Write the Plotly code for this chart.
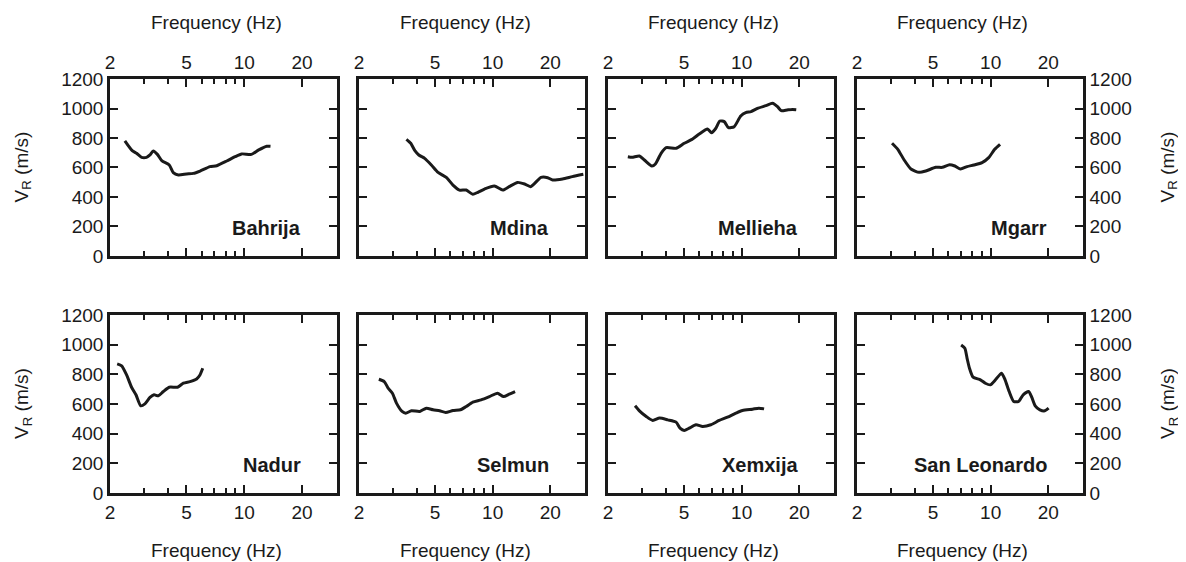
import plotly.graph_objects as go

# station names, grid order
stations = ["Bahrija", "Mdina", "Mellieha", "Mgarr",
            "Nadur", "Selmun", "Xemxija", "San Leonardo"]

# dispersion curves: frequency (Hz) and V_R (m/s)
bahrija_f = [2.39, 2.61, 2.75, 2.92, 3.10, 3.23, 3.36, 3.53, 3.72, 4.07, 4.27, 4.54, 5.01, 5.43,
             5.89, 6.63, 7.19, 8.11, 8.96, 9.70, 10.9, 11.9, 13.1, 13.7]
bahrija_v = [780, 714, 696, 669, 669, 685, 712, 689, 646, 617, 565, 549, 556, 560,
             576, 606, 612, 644, 673, 692, 689, 719, 744, 744]

mdina_f = [3.54, 3.73, 3.92, 4.11, 4.41, 4.78, 5.18, 5.72, 6.20, 6.71, 7.27, 7.88, 8.37, 9.06,
           10.2, 11.3, 12.2, 13.5, 14.7, 15.8, 17.9, 19.4, 20.6, 23.2, 26.1, 29.8]
mdina_v = [791, 764, 714, 685, 662, 617, 567, 533, 481, 447, 447, 418, 432, 454,
           475, 447, 470, 499, 488, 470, 533, 531, 515, 522, 538, 554]

mellieha_f = [2.54, 2.67, 2.92, 3.10, 3.39, 3.54, 3.79, 4.03, 4.54, 5.01, 5.54, 6.00, 6.63, 6.96,
              7.33, 7.69, 8.11, 8.53, 9.14, 9.89, 10.5, 11.2, 12.1, 13.4, 14.5, 15.4, 16.1,
              17.3, 18.4, 19.3]
mellieha_v = [673, 669, 678, 651, 610, 624, 696, 735, 730, 764, 793, 827, 861, 836,
              866, 915, 911, 870, 877, 949, 972, 979, 1001, 1019, 1035, 1012, 985,
              990, 994, 992]

mgarr_f = [3.05, 3.27, 3.53, 3.83, 4.23, 4.58, 5.16, 5.59, 6.10, 6.50, 6.96, 7.53, 8.16, 9.02,
           9.77, 10.5, 11.2]
mgarr_v = [764, 723, 651, 590, 567, 576, 601, 601, 619, 610, 590, 606, 617, 633,
           667, 723, 757]

nadur_f = [2.18, 2.30, 2.44, 2.59, 2.73, 2.89, 3.04, 3.23, 3.39, 3.57, 3.79, 4.07, 4.49, 4.82,
           5.22, 5.65, 5.88, 6.08]
nadur_v = [870, 857, 796, 713, 662, 588, 601, 644, 662, 655, 684, 713, 713, 740,
           751, 769, 796, 841]

selmun_f = [2.54, 2.71, 2.84, 2.99, 3.14, 3.36, 3.51, 3.76, 4.16, 4.50, 4.88, 5.28, 5.68, 6.20,
            6.79, 7.27, 7.88, 8.70, 9.62, 10.6, 11.4, 12.2, 13.1]
selmun_v = [767, 751, 707, 673, 606, 550, 538, 554, 550, 572, 561, 554, 543, 556,
            561, 583, 612, 628, 650, 673, 650, 666, 684]

xemxija_f = [2.77, 2.92, 3.17, 3.43, 3.72, 4.11, 4.54, 4.76, 5.01, 5.32, 5.77, 6.25, 6.90, 7.63,
             8.43, 9.32, 10.1, 11.4, 12.3, 13.1]
xemxija_v = [588, 554, 516, 489, 505, 493, 478, 437, 422, 437, 460, 449, 460, 489,
             511, 538, 556, 565, 572, 567]

sanleo_f = [7.01, 7.33, 7.53, 7.75, 8.09, 8.84, 9.38, 9.96, 10.6, 11.4, 11.9, 12.5, 13.2, 14.0,
            14.8, 15.8, 16.4, 17.1, 18.1, 19.2, 20.1]
sanleo_v = [998, 976, 908, 841, 781, 763, 740, 729, 763, 808, 763, 684, 617, 617,
            662, 684, 646, 588, 561, 554, 572]

curves = [(bahrija_f, bahrija_v), (mdina_f, mdina_v), (mellieha_f, mellieha_v), (mgarr_f, mgarr_v),
          (nadur_f, nadur_v), (selmun_f, selmun_v), (xemxija_f, xemxija_v), (sanleo_f, sanleo_v)]

x_major = [2, 5, 10, 20]
x_minor = [3, 4, 6, 7, 8, 9]
y_ticks = [0, 200, 400, 600, 800, 1000, 1200]

FONT = "Liberation Sans, Arial, Helvetica, sans-serif"
INK = "#1a1a1a"

col_dom = [[0.0, 0.2333], [0.2559, 0.4882], [0.5118, 0.7441], [0.7677, 1.0]]
row_dom = [[0.5725, 1.0], [0.0, 0.43]]

fig = go.Figure()
layout = {}
annotations = []

for i, (name, (f, v)) in enumerate(zip(stations, curves)):
    r, c = divmod(i, 4)
    n = i + 1
    xa = "x" if n == 1 else f"x{n}"
    ya = "y" if n == 1 else f"y{n}"
    fig.add_trace(go.Scatter(x=f, y=v, mode="lines", xaxis=xa, yaxis=ya,
                             line=dict(color=INK, width=3, shape="spline", smoothing=0.6),
                             showlegend=False, hoverinfo="skip"))
    layout["xaxis" if n == 1 else f"xaxis{n}"] = dict(
        domain=col_dom[c], anchor=ya, type="log", range=[0.301, 1.483],
        side="top" if r == 0 else "bottom",
        tickmode="array", tickvals=x_major, ticktext=[str(t) for t in x_major],
        ticks="inside", ticklen=8, tickwidth=1.5, tickcolor=INK,
        minor=dict(tickmode="array", tickvals=x_minor, ticks="inside", ticklen=5,
                   tickwidth=1.5, tickcolor=INK),
        showline=True, linewidth=2.5, linecolor=INK, mirror="ticks",
        showgrid=False, zeroline=False,
        tickfont=dict(family=FONT, size=19, color=INK),
    )
    layout["yaxis" if n == 1 else f"yaxis{n}"] = dict(
        domain=row_dom[r], anchor=xa, range=[0, 1200],
        tickmode="array", tickvals=y_ticks,
        side="right" if c == 3 else "left",
        showticklabels=(c == 0 or c == 3),
        ticks="inside", ticklen=8, tickwidth=1.5, tickcolor=INK,
        showline=True, linewidth=2.5, linecolor=INK, mirror="ticks",
        showgrid=False, zeroline=False,
        tickfont=dict(family=FONT, size=19, color=INK),
    )
    # station label
    annotations.append(dict(text=f"<b>{name}</b>", xref=f"{xa} domain", yref=f"{ya} domain",
                            x=1, y=0, xanchor="right", yanchor="middle",
                            xshift=-34, yshift=28, showarrow=False,
                            font=dict(family=FONT, size=20, color=INK)))

# frequency titles above the top row and below the bottom row
for c in range(4):
    xc = sum(col_dom[c]) / 2
    annotations.append(dict(text="Frequency (Hz)", xref="paper", yref="paper", x=xc, y=1,
                            xshift=-7, yshift=57, xanchor="center", yanchor="middle",
                            showarrow=False, font=dict(family=FONT, size=19, color=INK)))
    annotations.append(dict(text="Frequency (Hz)", xref="paper", yref="paper", x=xc, y=0,
                            xshift=-7, yshift=-57, xanchor="center", yanchor="middle",
                            showarrow=False, font=dict(family=FONT, size=19, color=INK)))

# V_R titles on both sides
for r in range(2):
    yc = sum(row_dom[r]) / 2
    for xp, xs in [(0, -87), (1, 86)]:
        annotations.append(dict(text="V<sub>R</sub> (m/s)", xref="paper", yref="paper",
                                x=xp, y=yc, xshift=xs, xanchor="center", yanchor="middle",
                                textangle=-90, showarrow=False,
                                font=dict(family=FONT, size=19, color=INK)))

fig.update_layout(**layout)
# page body has an 8px margin: figure runs from (8, 8) to the window's right/bottom edge
fig.update_layout(
    width=1178, height=554,
    margin=dict(l=102, r=103, t=71, b=69),
    paper_bgcolor="white", plot_bgcolor="white",
    annotations=annotations,
    font=dict(family=FONT, size=19, color=INK),
)

fig.write_html("out.html")
